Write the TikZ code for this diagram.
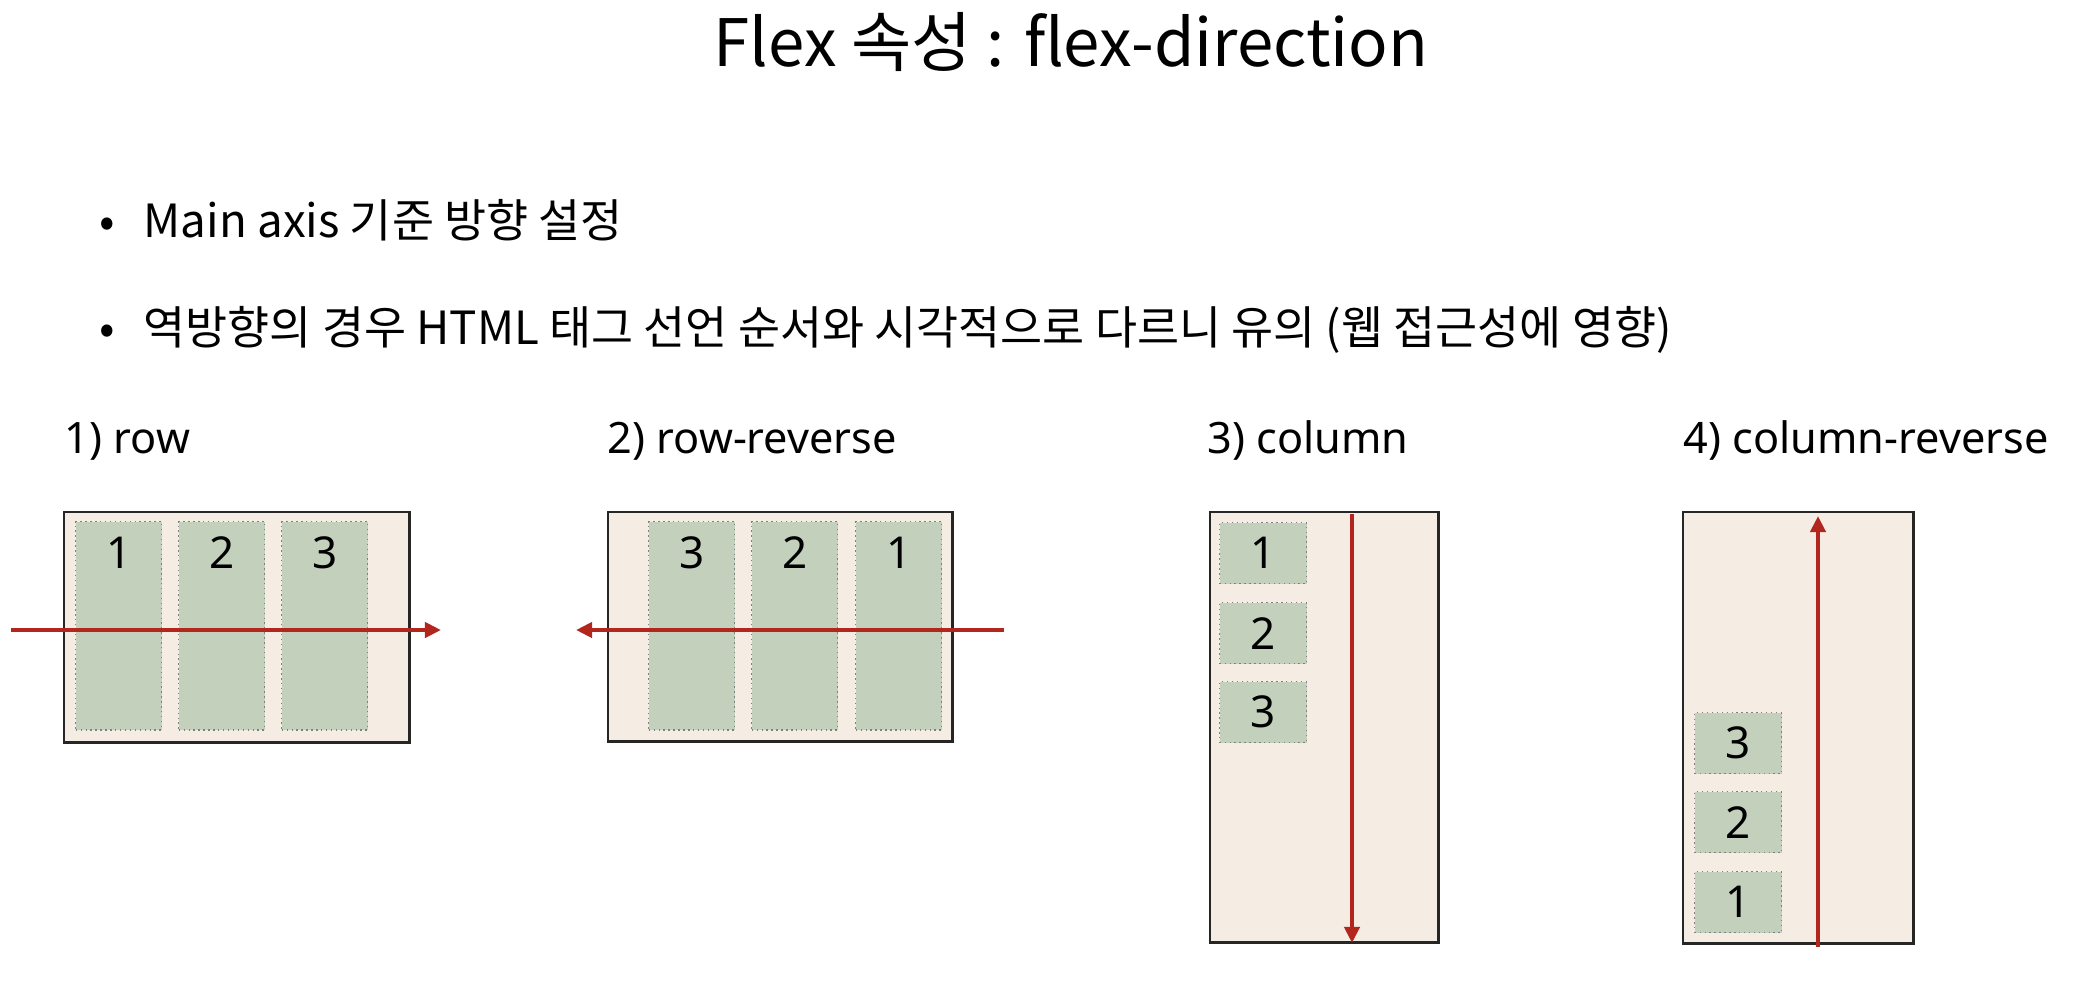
\documentclass[tikz,border=0pt]{standalone}
\usepackage{fontspec}
\setmainfont{Noto Sans CJK KR}
\newfontfamily\boxfont{Noto Sans}
\usepackage{tikz}
\usetikzlibrary{arrows.meta,positioning}
\definecolor{flexbg}{HTML}{F5ECE4}
\definecolor{flexitem}{HTML}{C3D1BC}
\definecolor{flexaxis}{HTML}{B3261E}
\tikzset{
  container/.style={draw=black!85, fill=flexbg, line width=0.7pt, inner sep=0pt, anchor=north west},
  flexitem/.style={draw=black!50, densely dotted, fill=flexitem, inner sep=0pt, anchor=north west},
  itemnum/.style={inner sep=0pt, font=\boxfont\fontsize{12.5}{14}\selectfont},
  caption/.style={anchor=base west, inner sep=0pt, font=\boxfont\fontsize{12.3}{14}\selectfont},
  mainaxis/.style={flexaxis, line width=1.2pt, -{Triangle[length=0.16cm,width=0.15cm]}},
}

\begin{document}
\begin{tikzpicture}[x=0.01cm,y=-0.01cm]
\useasboundingbox (0,0) rectangle (2090,1000);
% title and bullets
\node[anchor=base, inner sep=0pt, font=\fontsize{18.6}{22}\selectfont] (title) at (1071,67) {Flex 속성 : flex-direction};
\node[anchor=base, inner sep=0pt, font=\fontsize{13}{16}\selectfont] (dotA) at (107,237) {•};
\node[anchor=base west, inner sep=0pt, font=\fontsize{13}{16}\selectfont] (textA) at (143,237) {Main axis 기준 방향 설정};
\node[anchor=base, inner sep=0pt, font=\fontsize{13}{16}\selectfont] (dotB) at (107,344) {•};
\node[anchor=base west, inner sep=0pt, font=\fontsize{13}{16}\selectfont] (textB) at (143,344) {역방향의 경우 HTML 태그 선언 순서와 시각적으로 다르니 유의 (웹 접근성에 영향)};

% captions
\node[caption] (capRow) at (64,453) {1) row};
\node[caption] (capRowRev) at (607,453) {2) row-reverse};
\node[caption] (capCol) at (1207,453) {3) column};
\node[caption] (capColRev) at (1683,453) {4) column-reverse};

% 1) row
\node[container, minimum width=3.45cm, minimum height=2.30cm] (row) at (63,511) {};
\foreach \i/\x in {1/75, 2/178, 3/281}{
  \node[flexitem, minimum width=0.86cm, minimum height=2.08cm] (row\i) at (\x,521) {};
  \node[itemnum, below=0.15cm of row\i.north] (rowN\i) {\i};
}
\coordinate (rowS) at (11,630);
\coordinate (rowE) at (441,630);
\draw[mainaxis] (rowS) -- (rowE);

% 2) row-reverse
\node[container, minimum width=3.44cm, minimum height=2.29cm] (rrev) at (607,511) {};
\foreach \i/\x in {3/648, 2/751, 1/855}{
  \node[flexitem, minimum width=0.86cm, minimum height=2.08cm] (rrev\i) at (\x,521) {};
  \node[itemnum, below=0.15cm of rrev\i.north] (rrevN\i) {\i};
}
\coordinate (rrevS) at (1004,630);
\coordinate (rrevE) at (576,630);
\draw[mainaxis] (rrevS) -- (rrevE);

% 3) column
\node[container, minimum width=2.28cm, minimum height=4.30cm] (col) at (1209,511) {};
\foreach \i/\y in {1/522, 2/602, 3/681}{
  \node[flexitem, minimum width=0.87cm, minimum height=0.61cm, itemnum] (col\i) at (1219,\y) {\i};
}
\coordinate (colS) at (1352,514);
\coordinate (colE) at (1352,943);
\draw[mainaxis] (colS) -- (colE);

% 4) column-reverse
\node[container, minimum width=2.30cm, minimum height=4.31cm] (crev) at (1682,511) {};
\foreach \i/\y in {1/871, 2/791, 3/712}{
  \node[flexitem, minimum width=0.87cm, minimum height=0.61cm, itemnum] (crev\i) at (1694,\y) {\i};
}
\coordinate (crevS) at (1818,947);
\coordinate (crevE) at (1818,516);
\draw[mainaxis] (crevS) -- (crevE);
\end{tikzpicture}
\end{document}
